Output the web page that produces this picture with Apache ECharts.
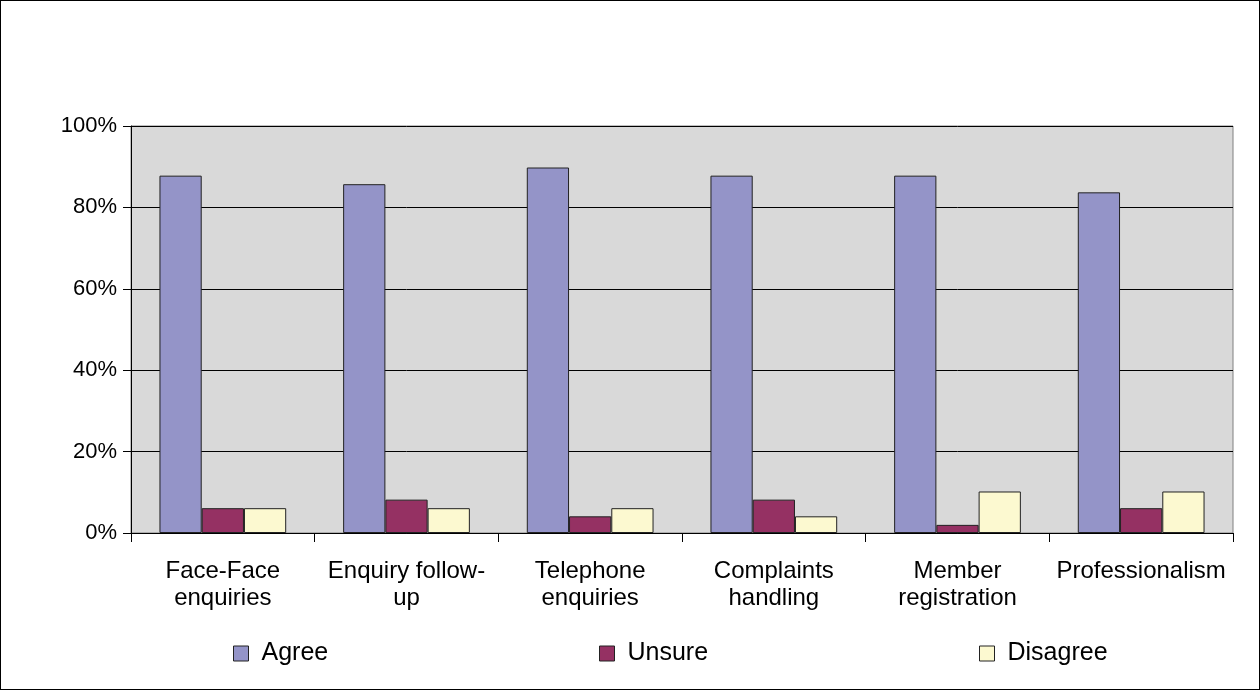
<!DOCTYPE html>
<html>
<head>
<meta charset="utf-8">
<script src="https://cdn.jsdelivr.net/npm/echarts@6/dist/echarts.min.js"></script>
<style>
html,body{margin:0;padding:0;background:#fff;}
#chart{width:1260px;height:690px;box-sizing:border-box;border:1px solid #000;}
</style>
</head>
<body>
<div id="chart"></div>
<script>
// Data (share of 49 respondents, in %)
const categories = ["Face-Face\nenquiries", "Enquiry follow-\nup", "Telephone\nenquiries", "Complaints\nhandling", "Member\nregistration", "Professionalism"];
const agree    = [87.8, 85.7, 89.8, 87.8, 87.8, 83.7];
const unsure   = [6.1, 8.2, 4.1, 8.2, 2.0, 6.1];
const disagree = [6.1, 6.1, 6.1, 4.1, 10.2, 10.2];
const yTicks = [0, 20, 40, 60, 80, 100];

const colors = { Agree: "#9494C8", Unsure: "#953163", Disagree: "#FCF9D0" };
const font = "Arial, 'Liberation Sans', sans-serif";

const chart = echarts.init(document.getElementById('chart'), null, { renderer: 'canvas' });

function mkSeries(name, data) {
  return {
    name: name, type: 'bar', data: data,
    barGap: '0%', barCategoryGap: '31%',
    itemStyle: { color: colors[name], borderColor: '#222', borderWidth: 1 },
    emphasis: { disabled: true }
  };
}
function mkLegend(name, left) {
  return {
    data: [name], left: left, top: 640, padding: 0, itemWidth: 15, itemHeight: 15,
    icon: 'rect', itemStyle: { borderColor: '#222', borderWidth: 1 },
    textStyle: { fontFamily: font, fontSize: 25, color: '#000', padding: [0, 0, 0, 8] },
    selectedMode: false
  };
}

chart.setOption({
  animation: false,
  backgroundColor: '#fff',
  legend: [mkLegend('Agree', 232), mkLegend('Unsure', 598), mkLegend('Disagree', 978)],
  grid: { left: 130, right: 26, top: 125, bottom: 156, show: true, backgroundColor: '#D9D9D9', borderColor: '#808080', borderWidth: 1 },
  xAxis: {
    type: 'category', data: categories,
    axisLine: { lineStyle: { color: '#000', width: 1 } },
    axisTick: { show: true, length: 9, lineStyle: { color: '#000' } },
    axisLabel: { fontFamily: font, fontSize: 24, color: '#000', margin: 25, lineHeight: 27, interval: 0 }
  },
  yAxis: {
    type: 'value', min: yTicks[0], max: yTicks[yTicks.length - 1], interval: 20,
    axisLine: { show: true, lineStyle: { color: '#000', width: 1 } },
    axisTick: { show: true, length: 8, lineStyle: { color: '#000' } },
    axisLabel: { fontFamily: font, fontSize: 22, color: '#000', margin: 14, formatter: '{value}%' },
    splitLine: { show: true, lineStyle: { color: '#000', width: 1 } }
  },
  series: [mkSeries('Agree', agree), mkSeries('Unsure', unsure), mkSeries('Disagree', disagree)]
});
</script>
</body>
</html>
